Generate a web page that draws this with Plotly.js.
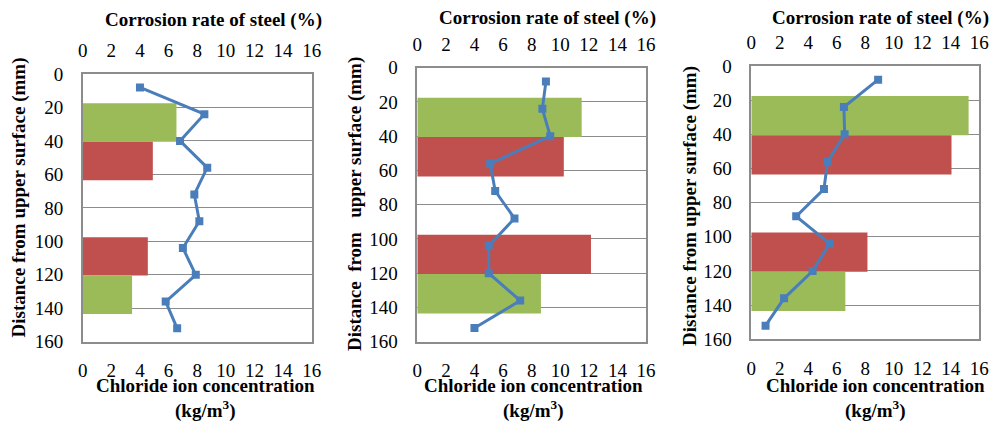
<!DOCTYPE html>
<html><head><meta charset="utf-8">
<script src="https://cdn.plot.ly/plotly-3.0.1.min.js"></script>
<style>
html,body{margin:0;padding:0;background:#fff}
</style>
</head><body><div id="chart" style="width:1003px;height:426px"></div>
<script>
// Data
const depths = [8, 24, 40, 56, 72, 88, 104, 120, 136, 152];           // mm
const corrosion1 = [4.0, 8.5, 6.8, 8.7, 7.8, 8.15, 7.0, 7.9, 5.8, 6.6]; // %
const corrosion2 = [9.0, 8.75, 9.3, 5.1, 5.45, 6.8, 5.0, 5.0, 7.2, 4.0];
const corrosion3 = [8.9, 6.5, 6.55, 5.35, 5.1, 3.15, 5.5, 4.3, 2.3, 1.0];
const layerFrom = [17.5, 40.5, 97.5, 120.5];  // mm
const layerTo = [40.5, 63.5, 120.5, 143.5];   // mm
const chloride1 = [6.55, 4.9, 4.55, 3.45];    // kg/m3
const chloride2 = [11.5, 10.25, 12.15, 8.65];
const chloride3 = [15.25, 14.05, 8.15, 6.6];
const xTicks = [0, 2, 4, 6, 8, 10, 12, 14, 16];
const yTicks = [0, 20, 40, 60, 80, 100, 120, 140, 160];
const topTitle = 'Corrosion rate of steel (%)';
const bottomTitle = 'Chloride ion concentration<br>(kg/m<sup>3</sup>)';
const yTitles = ['Distance from upper surface (mm)',
  'Distance\u00A0\u00A0from\u00A0\u00A0\u00A0upper surface (mm)',
  'Distance from upper surface (mm)'];

const GREEN = '#9BBB59', RED = '#C0504D', BLUE = '#4A7EBB', GRID = '#8C8C8C';
const barColors = [GREEN, RED, RED, GREEN];
const SERIF = 'Liberation Serif';

const W = 1003, H = 426;
// plot boxes in pixels [left, right, top, bottom]
const boxes = [[82.7, 311.7, 74, 341.7], [417.3, 646, 67.7, 341.7], [751.3, 979.3, 66, 339.3]];
const chlor = [chloride1, chloride2, chloride3];
const corr = [corrosion1, corrosion2, corrosion3];
const centers = layerFrom.map((f, i) => (f + layerTo[i]) / 2);
const widths = layerFrom.map((f, i) => layerTo[i] - f);

const data = [], layout = {
  width: W, height: H, margin: {l: 0, r: 0, t: 0, b: 0},
  showlegend: false, annotations: []
};
const ann = layout.annotations;
const titleCenters = [
  {top: [213, 20], bot: [205, 398.5], y: [18, 197.5]},
  {top: [547, 18], bot: [533, 398.5], y: [355, 204]},
  {top: [880.5, 18], bot: [875, 398.5], y: [690, 206]}
];

for (let p = 0; p < 3; p++) {
  const [l, r, t, b] = boxes[p];
  const xb = 'x' + (2 * p + 1 === 1 ? '' : 2 * p + 1), xt = 'x' + (2 * p + 2);
  const yy = 'y' + (p === 0 ? '' : p + 1);
  const xbName = 'xaxis' + (2 * p + 1 === 1 ? '' : 2 * p + 1), xtName = 'xaxis' + (2 * p + 2);
  const yName = 'yaxis' + (p === 0 ? '' : p + 1);
  data.push({type: 'bar', orientation: 'h', x: chlor[p], y: centers, width: widths,
    marker: {color: barColors, line: {width: 0}}, xaxis: xb, yaxis: yy, hoverinfo: 'skip'});
  data.push({type: 'scatter', mode: 'lines+markers', x: corr[p], y: depths,
    line: {color: BLUE, width: 3}, marker: {symbol: 'square', size: 8, color: BLUE},
    xaxis: xt, yaxis: yy, hoverinfo: 'skip'});
  layout[xbName] = {domain: [l / W, r / W], range: [0, 16], anchor: yy, side: 'bottom',
    tickvals: xTicks, showgrid: false, zeroline: false, showline: true, mirror: true,
    linecolor: GRID, linewidth: 1.5, ticks: '', ticklabelstandoff: 11,
    tickfont: {family: SERIF, size: 19, color: '#000'}};
  layout[xtName] = {overlaying: xb, range: [0, 16], anchor: yy, side: 'top',
    tickvals: xTicks, showgrid: false, zeroline: false, showline: false, ticks: '',
    ticklabelstandoff: 12, tickfont: {family: SERIF, size: 19, color: '#000'}};
  layout[yName] = {domain: [1 - b / H, 1 - t / H], range: [160, 0], anchor: xb,
    tickvals: yTicks, showgrid: true, gridcolor: GRID, gridwidth: 1, zeroline: false,
    showline: true, mirror: true, linecolor: GRID, linewidth: 1.5, ticks: '',
    ticklabelstandoff: 14, tickfont: {family: SERIF, size: 19, color: '#000'}};
  const tc = titleCenters[p];
  ann.push({text: '<b>' + topTitle + '</b>', xref: 'paper', yref: 'paper',
    x: tc.top[0] / W, y: 1 - tc.top[1] / H, xanchor: 'center', yanchor: 'middle',
    showarrow: false, font: {family: SERIF, size: 19, color: '#000'}});
  ann.push({text: '<b>' + bottomTitle + '</b>', xref: 'paper', yref: 'paper',
    x: tc.bot[0] / W, y: 1 - tc.bot[1] / H, xanchor: 'center', yanchor: 'middle',
    showarrow: false, font: {family: SERIF, size: 19, color: '#000'}});
  ann.push({text: '<b>' + yTitles[p] + '</b>', xref: 'paper', yref: 'paper',
    x: tc.y[0] / W, y: 1 - tc.y[1] / H, xanchor: 'center', yanchor: 'middle',
    textangle: -90, showarrow: false, font: {family: SERIF, size: 19, color: '#000'}});
}

Plotly.newPlot('chart', data, layout, {displayModeBar: false}).then(function (gd) {
  gd.querySelectorAll('text').forEach(function (el) {
    el.setAttribute('font-family', SERIF);
    el.style.fontFamily = SERIF;
  });
});
</script></body></html>
